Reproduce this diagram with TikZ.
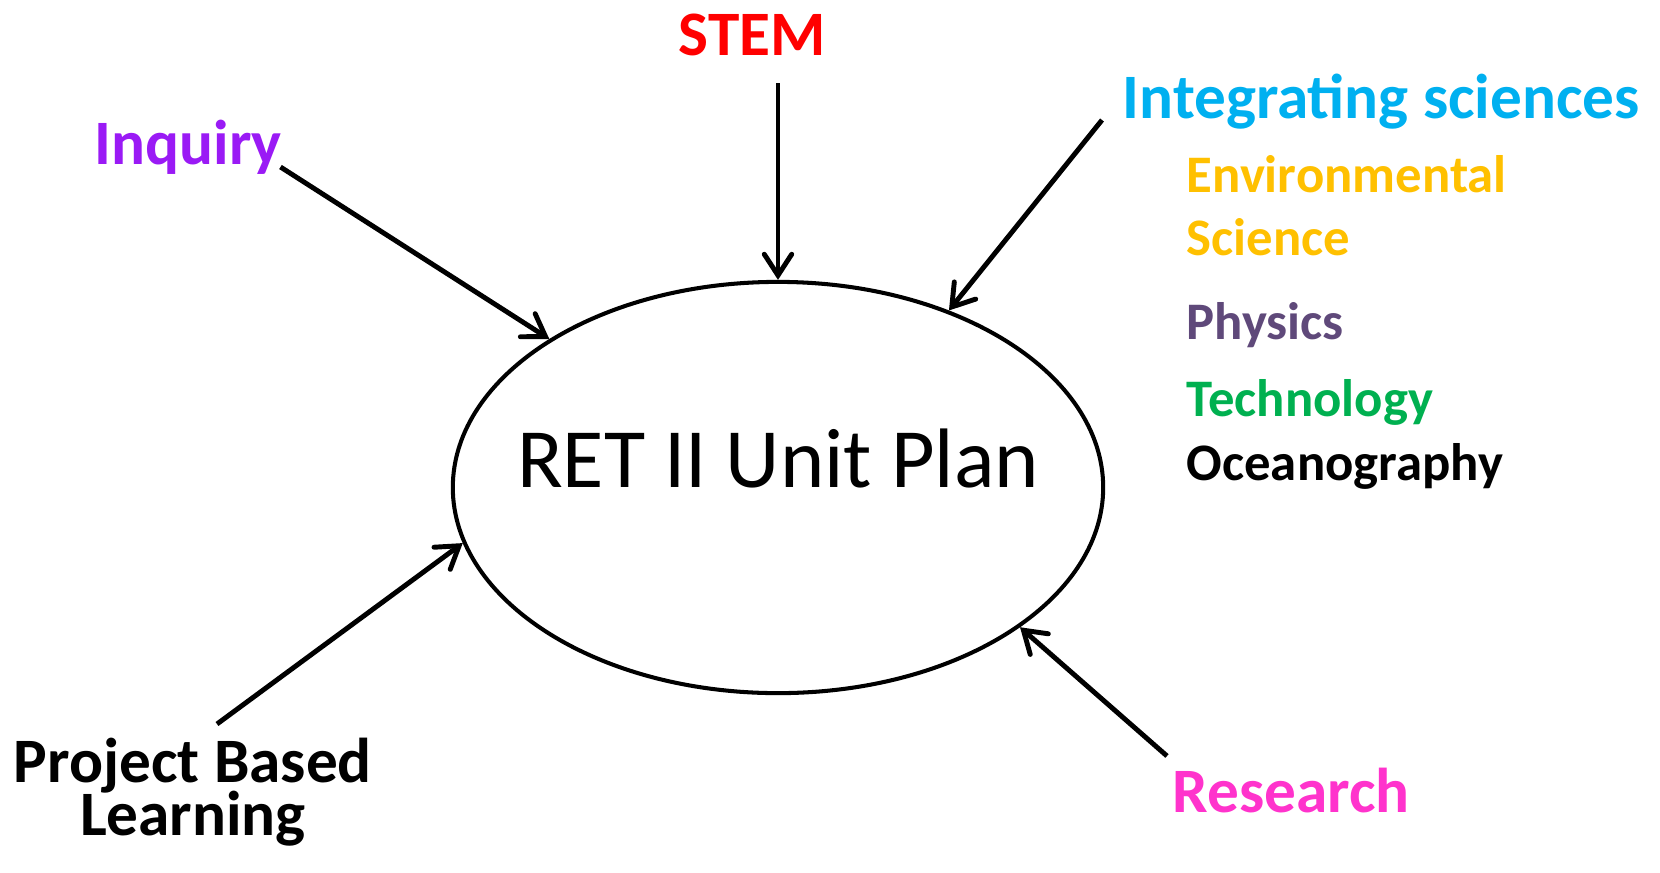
\documentclass[tikz,border=0pt]{standalone}
\usepackage{fontspec}
\setmainfont{Carlito}
\usetikzlibrary{shapes.geometric,arrows.meta,positioning}

\definecolor{inquirycol}{HTML}{9A1AF5}
\definecolor{sciencecol}{HTML}{00B0F0}
\definecolor{envcol}{HTML}{FFC000}
\definecolor{physcol}{HTML}{5F497A}
\definecolor{techcol}{HTML}{00B050}
\definecolor{researchcol}{HTML}{FF33CC}

\begin{document}
\begin{tikzpicture}[x=0.01cm,y=-0.01cm,
	topic/.style={font=\bfseries\fontsize{18}{13.7}\selectfont, inner sep=0pt, anchor=base west},
	subject/.style={font=\bfseries\fontsize{15}{18}\selectfont, inner sep=0pt, anchor=base west},
	feed/.style={line width=1.4pt, -{Straight Barb[length=6pt,width=7.8pt,line cap=round]}}]
	\useasboundingbox (0,0) rectangle (1660,872);

	% the unit plan in the middle
	\node[draw, ellipse, line width=1.15pt, minimum width=6.5cm, minimum height=4.11cm,
		inner ysep=0pt, inner xsep=-12pt, text depth=16.5pt,
		font=\fontsize{24}{28}\selectfont] (plan) at (778,487.5) {RET II Unit Plan};

	% what feeds into it
	\node[topic, red] (stem) at (678,55) {STEM};
	\node[topic, inquirycol] (inquiry) at (94,164) {Inquiry};
	\node[topic, sciencecol] (sciences) at (1122,118.6) {Integrating sciences};
	\node[topic, anchor=base, align=center] (pbl) at (193,835) {Project Based\\[-1.8pt]Learning};
	\node[topic, researchcol] (research) at (1172,812) {Research};

	% the sciences
	\node[subject, envcol] (env) at (1186,192) {Environmental};
	\node[subject, envcol] (envsci) at (1186,255) {Science};
	\node[subject, physcol] (physics) at (1186,339) {Physics};
	\node[subject, techcol] (tech) at (1186,416) {Technology};
	\node[subject] (ocean) at (1186,480) {Oceanography};

	\coordinate (stem tail) at (778,83);
	\coordinate (inquiry tail) at (280.5,167);
	\coordinate (sciences tail) at (1102,120);
	\coordinate (pbl tail) at (217,724);
	\coordinate (research tail) at (1167,756);

	\draw[feed] (stem tail) -- (plan.90);
	\draw[feed] (inquiry tail) -- (plan.147.6);
	\draw[feed] (sciences tail) -- (plan.46.1);
	\draw[feed] (pbl tail) -- (plan.190.9);
	\draw[feed] (research tail) -- (plan.-30.5);
\end{tikzpicture}
\end{document}
